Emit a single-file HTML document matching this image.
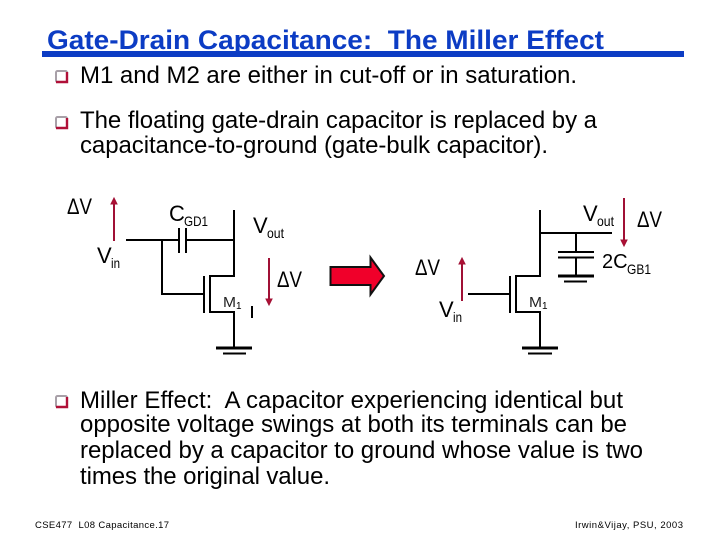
<!DOCTYPE html>
<html><head><meta charset="utf-8"><style>
html,body{margin:0;padding:0;background:#fff;width:720px;height:540px;overflow:hidden}
svg{display:block}
text{font-family:"Liberation Sans",sans-serif;fill:#000}
.b{font-size:24px}
.l{font-size:22px}
.s{font-size:14px}
.m{font-size:15px;fill:#222}
.f{font-size:9.5px}
</style></head><body>
<svg width="720" height="540" viewBox="0 0 720 540" xmlns="http://www.w3.org/2000/svg">
<rect width="720" height="540" fill="#fff"/>
<text x="47" y="49" font-size="27" font-weight="bold" style="fill:#0c3cc4" textLength="557" lengthAdjust="spacingAndGlyphs" xml:space="preserve">Gate-Drain Capacitance:  The Miller Effect</text>
<rect x="42" y="51" width="642" height="6" fill="#0c3cc4"/>

<g fill="#fff" stroke-width="2">
<rect x="56" y="71" width="11" height="11" rx="1.5" fill="#fff" stroke="#a8a0a8"/>
<path d="M56 82H67V72" fill="none" stroke="#b01038" stroke-width="2.4"/>
<rect x="56" y="117" width="11" height="11" rx="1.5" fill="#fff" stroke="#a8a0a8"/>
<path d="M56 128H67V118" fill="none" stroke="#b01038" stroke-width="2.4"/>
<rect x="56" y="396" width="11" height="11" rx="1.5" fill="#fff" stroke="#a8a0a8"/>
<path d="M56 407H67V397" fill="none" stroke="#b01038" stroke-width="2.4"/>
</g>

<text class="b" x="80" y="83" textLength="497">M1 and M2 are either in cut-off or in saturation.</text>
<text class="b" x="80" y="128" textLength="517">The floating gate-drain capacitor is replaced by a</text>
<text class="b" x="80" y="153" textLength="468">capacitance-to-ground (gate-bulk capacitor).</text>
<text class="b" x="80" y="408" textLength="543" xml:space="preserve">Miller Effect:  A capacitor experiencing identical but</text>
<text class="b" x="80" y="432" textLength="547">opposite voltage swings at both its terminals can be</text>
<text class="b" x="80" y="458" textLength="563">replaced by a capacitor to ground whose value is two</text>
<text class="b" x="80" y="484" textLength="250">times the original value.</text>

<!-- left circuit -->
<g stroke="#000" stroke-width="2" fill="none">
<path d="M126 240H179M186 240H234M234 210V276H210V312H234V348M162 240V294H204"/>
<path d="M179 228V253M186 228V253"/>
<path d="M204 276V313"/>
<path d="M216 348H252" stroke-width="3"/>
<path d="M223 353.500H246"/>
<path d="M252 306V318"/>
</g>
<!-- right circuit -->
<g stroke="#000" stroke-width="2" fill="none">
<path d="M540 210V276H516V312H540V348M540 233H612M576 233V252M576 257V276M468 294H510"/>
<path d="M510 276V313"/>
<path d="M558 252H594M558 257.500H594"/>
<path d="M558 276H594" stroke-width="3"/>
<path d="M564 281.500H587"/>
<path d="M522 348H558" stroke-width="3"/>
<path d="M528 353.500H552"/>
</g>
<!-- voltage arrows -->
<g stroke="#a01035" stroke-width="2" fill="#b01035">
<path d="M114 241V204"/><path d="M114 198L117 204H111Z" stroke-width="1"/>
<path d="M269 258V299"/><path d="M269 305L272 299H266Z" stroke-width="1"/>
<path d="M462 301V264"/><path d="M462 258L465 264H459Z" stroke-width="1"/>
<path d="M624 198V240"/><path d="M624 246L627 240H621Z" stroke-width="1"/>
</g>
<!-- big arrow -->
<path d="M330.500 267H370.500V257.500L384 276L370.500 294.500V285H330.500Z" fill="#f0002a" stroke="#111" stroke-width="2"/>

<!-- labels -->
<text class="l" x="67" y="214" textLength="25" lengthAdjust="spacingAndGlyphs">ΔV</text>
<text x="169" y="221" font-size="22">C</text><text class="s" x="184" y="226" textLength="24" lengthAdjust="spacingAndGlyphs">GD1</text>
<text class="l" x="253" y="233">V</text><text class="s" x="267" y="238" textLength="17" lengthAdjust="spacingAndGlyphs">out</text>
<text class="l" x="97" y="263">V</text><text class="s" x="111" y="268" textLength="9" lengthAdjust="spacingAndGlyphs">in</text>
<text class="l" x="277" y="287" textLength="25" lengthAdjust="spacingAndGlyphs">ΔV</text>
<text class="m" x="223" y="307" textLength="13" lengthAdjust="spacingAndGlyphs">M</text><text font-size="10" x="236" y="309">1</text>

<text class="l" x="583" y="221">V</text><text class="s" x="597" y="226" textLength="17" lengthAdjust="spacingAndGlyphs">out</text>
<text class="l" x="637" y="227" textLength="25" lengthAdjust="spacingAndGlyphs">ΔV</text>
<text x="602" y="268" font-size="20">2C</text><text class="s" x="627" y="274" textLength="24" lengthAdjust="spacingAndGlyphs">GB1</text>
<text class="l" x="415" y="275" textLength="25" lengthAdjust="spacingAndGlyphs">ΔV</text>
<text class="l" x="439" y="317">V</text><text class="s" x="453" y="322" textLength="9" lengthAdjust="spacingAndGlyphs">in</text>
<text class="m" x="529" y="307" textLength="13" lengthAdjust="spacingAndGlyphs">M</text><text font-size="10" x="542" y="309">1</text>

<text class="f" x="35" y="528" textLength="134" xml:space="preserve">CSE477  L08 Capacitance.17</text>
<text class="f" x="575" y="528" textLength="108">Irwin&amp;Vijay, PSU, 2003</text>
</svg>
</body></html>
